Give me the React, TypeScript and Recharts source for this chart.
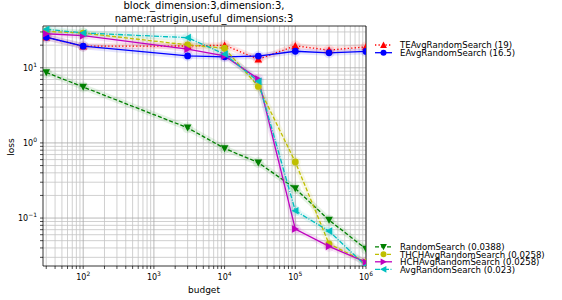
import React from "react";
import { LineChart, Line, XAxis, YAxis, CartesianGrid, ReferenceLine } from "recharts";

const budgets = [30, 100, 3000, 10000, 30000, 100000, 300000, 1000000];
const teAvg = [25.5, 19.4, 19.5, 20.0, 13.0, 19.6, 17.2, 19.0];
const eAvg = [25.5, 19.4, 14.4, 14.0, 14.3, 16.6, 15.8, 16.5];
const randomSearch = [8.67, 5.55, 1.59, 0.845, 0.547, 0.247, 0.094, 0.0388];
const thchAvg = [30.6, 29.0, 20.2, 18.2, 5.65, 0.557, 0.0453, 0.0258];
const hchAvg = [28.4, 26.8, 17.7, 14.4, 7.1, 0.0714, 0.042, 0.0258];
const avgRandom = [32.6, 29.1, 25.2, 15.2, 6.6, 0.125, 0.067, 0.023];

const xMajorTicks = [100, 1000, 10000, 100000, 1000000];
const yMajorTicks = [0.1, 1, 10];
const X_DOMAIN = [27, 1000000];
const Y_DOMAIN = [0.023, 36];

const minors = (decades: number[], lo: number, hi: number) => {
  const out: number[] = [];
  decades.forEach((d) => {
    for (let m = 2; m <= 9; m++) {
      const v = +(m * d).toPrecision(3);
      if (v >= lo && v <= hi) out.push(v);
    }
  });
  return out;
};
const xMinorTicks = minors([10, 100, 1000, 10000, 100000], X_DOMAIN[0], X_DOMAIN[1]);
const yMinorTicks = minors([0.01, 0.1, 1, 10], Y_DOMAIN[0], Y_DOMAIN[1]);
const xAllTicks = [...xMinorTicks, ...xMajorTicks].sort((a, b) => a - b);
const yAllTicks = [...yMinorTicks, ...yMajorTicks].sort((a, b) => a - b);

type Shape = "up" | "down" | "left" | "right" | "circle";

const series: { key: string; name: string; color: string; dash?: string; shape: Shape }[] = [
  { key: "te", name: "TEAvgRandomSearch (19)", color: "#ff0000", dash: "1.3 2.2", shape: "up" },
  { key: "e", name: "EAvgRandomSearch (16.5)", color: "#0000ff", shape: "circle" },
  { key: "rs", name: "RandomSearch (0.0388)", color: "#008000", dash: "4 2", shape: "down" },
  { key: "thch", name: "THCHAvgRandomSearch (0.0258)", color: "#bfbf00", dash: "4 2", shape: "circle" },
  { key: "hch", name: "HCHAvgRandomSearch (0.0258)", color: "#bf00bf", shape: "right" },
  { key: "avg", name: "AvgRandomSearch (0.023)", color: "#00bfbf", dash: "5 1.5 1 1.5", shape: "left" },
];

const data = budgets.map((b, i) => ({
  budget: b,
  te: teAvg[i],
  e: eAvg[i],
  rs: randomSearch[i],
  thch: thchAvg[i],
  hch: hchAvg[i],
  avg: avgRandom[i],
}));

const FONT = "DejaVu Sans, sans-serif";

function markerPath(shape: Shape, cx: number, cy: number, s: number) {
  const h = s * 0.85;
  switch (shape) {
    case "up":
      return `${cx},${cy - s} ${cx - s},${cy + h} ${cx + s},${cy + h}`;
    case "down":
      return `${cx},${cy + s} ${cx - s},${cy - h} ${cx + s},${cy - h}`;
    case "left":
      return `${cx - s},${cy} ${cx + h},${cy - s} ${cx + h},${cy + s}`;
    default:
      return `${cx + s},${cy} ${cx - h},${cy - s} ${cx - h},${cy + s}`;
  }
}

function Marker({ cx, cy, shape, color, size = 3.4, opacity = 1 }: any) {
  if (cx == null || cy == null || isNaN(cx) || isNaN(cy)) return null;
  if (shape === "circle")
    return <circle cx={cx} cy={cy} r={size} fill={color} fillOpacity={opacity} />;
  return <polygon points={markerPath(shape, cx, cy, size + 0.4)} fill={color} fillOpacity={opacity} />;
}

const XTick = ({ x, y, payload }: any) => {
  if (!xMajorTicks.includes(payload.value)) return null;
  const exp = Math.round(Math.log10(payload.value));
  return (
    <text x={x} y={y + 9} textAnchor="middle" fontFamily={FONT} fontSize={8} fill="#000">
      <tspan>10</tspan>
      <tspan dy={-4} fontSize={6}>{exp}</tspan>
    </text>
  );
};

const YTick = ({ x, y, payload }: any) => {
  if (!yMajorTicks.includes(payload.value)) return null;
  const exp = Math.round(Math.log10(payload.value));
  return (
    <text x={x} y={y + 3} textAnchor="end" fontFamily={FONT} fontSize={8} fill="#000">
      <tspan>10</tspan>
      <tspan dy={-4} fontSize={6}>{exp < 0 ? "\u2212" + -exp : exp}</tspan>
    </text>
  );
};

function LegendRow({ s, y }: { s: (typeof series)[number]; y: number }) {
  return (
    <g>
      <line x1={375} x2={392} y1={y} y2={y} stroke={s.color} strokeWidth={1.3} strokeDasharray={s.dash} />
      <Marker cx={383.5} cy={y} shape={s.shape} color={s.color} size={3} />
      <text x={400} y={y + 3.2} fontFamily={FONT} fontSize={8.6} fill="#000">
        {s.name}
      </text>
    </g>
  );
}

export default function App() {
  const top = series.slice(0, 2);
  const bottom = series.slice(2);
  return (
    <div style={{ position: "absolute", left: 0, top: 0, width: 562, height: 300, background: "#fff" }}>
      <LineChart width={562} height={300} data={data} margin={{ top: 26, right: 196, bottom: 0, left: 0 }}>
        <CartesianGrid
          stroke="#c4c4c4"
          strokeWidth={0.8}
          verticalValues={xMinorTicks}
          horizontalValues={yMinorTicks}
        />
        <CartesianGrid
          stroke="#a8a8a8"
          strokeWidth={0.8}
          verticalValues={xMajorTicks}
          horizontalValues={yMajorTicks}
        />
        <XAxis
          dataKey="budget"
          type="number"
          scale="log"
          domain={X_DOMAIN}
          allowDataOverflow
          ticks={xAllTicks}
          interval={0}
          tick={<XTick />}
          tickSize={3}
          height={34}
          stroke="#000"
          tickLine={{ stroke: "#000", strokeWidth: 0.7 }}
          axisLine={{ stroke: "#000", strokeWidth: 0.8 }}
        />
        <YAxis
          type="number"
          scale="log"
          domain={Y_DOMAIN}
          allowDataOverflow
          ticks={yAllTicks}
          interval={0}
          tick={<YTick />}
          tickSize={3}
          tickMargin={3}
          width={43}
          stroke="#000"
          tickLine={{ stroke: "#000", strokeWidth: 0.7 }}
          axisLine={{ stroke: "#000", strokeWidth: 0.8 }}
        />
        <ReferenceLine y={Y_DOMAIN[1]} stroke="#000" strokeWidth={0.8} />
        <ReferenceLine x={X_DOMAIN[1]} stroke="#000" strokeWidth={0.8} />
        {series.map((s) => (
          <Line
            key={s.key + "-halo"}
            dataKey={s.key}
            stroke={s.color}
            strokeOpacity={0.1}
            strokeWidth={6}
            isAnimationActive={false}
            legendType="none"
            dot={(p: any) => (
              <Marker key={`${s.key}-h-${p.index}`} cx={p.cx} cy={p.cy} shape="circle" color={s.color} size={5.5} opacity={0.1} />
            )}
            activeDot={false}
          />
        ))}
        {series.map((s) => (
          <Line
            key={s.key}
            dataKey={s.key}
            stroke={s.color}
            strokeWidth={1.3}
            strokeDasharray={s.dash}
            isAnimationActive={false}
            dot={(p: any) => (
              <Marker key={`${s.key}-${p.index}`} cx={p.cx} cy={p.cy} shape={s.shape} color={s.color} />
            )}
            activeDot={false}
          />
        ))}
      </LineChart>
      <svg width={562} height={300} style={{ position: "absolute", left: 0, top: 0, pointerEvents: "none" }}>
        <text x={204} y={9} textAnchor="middle" fontFamily={FONT} fontSize={10} fill="#000">
          block_dimension:3,dimension:3,
        </text>
        <text x={204} y={22} textAnchor="middle" fontFamily={FONT} fontSize={10} fill="#000">
          name:rastrigin,useful_dimensions:3
        </text>
        <text x={204} y={293} textAnchor="middle" fontFamily={FONT} fontSize={9} fill="#000">
          budget
        </text>
        <text x={14} y={147} textAnchor="middle" fontFamily={FONT} fontSize={9} fill="#000" transform="rotate(-90 14 147)">
          loss
        </text>
        {top.map((s, i) => (
          <LegendRow key={s.key} s={s} y={45 + i * 7.7} />
        ))}
        {bottom.map((s, i) => (
          <LegendRow key={s.key} s={s} y={246.8 + i * 7.5} />
        ))}
      </svg>
    </div>
  );
}
